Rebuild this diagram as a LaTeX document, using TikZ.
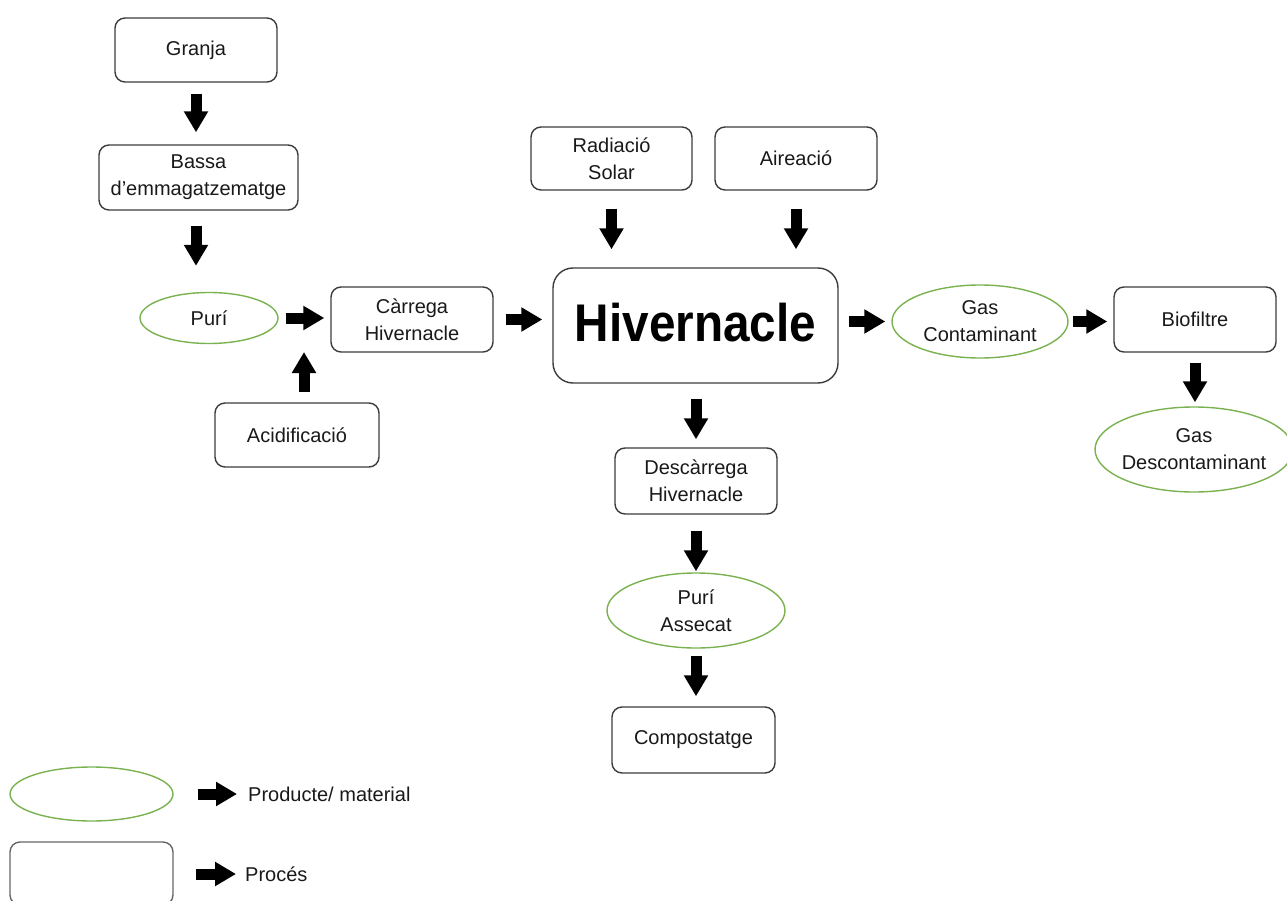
\documentclass[tikz,border=0pt]{standalone}
\usepackage{fontspec}
\setmainfont{Liberation Sans}
\usetikzlibrary{shapes.geometric,arrows.meta}
\definecolor{prodgreen}{RGB}{122,178,80}
\definecolor{boxline}{RGB}{60,60,60}
\definecolor{txt}{RGB}{25,25,25}
\tikzset{
  procbox/.style={draw=boxline, line width=1.4pt, rounded corners=10pt, fill=white,
    align=center, text=txt, inner sep=0pt, font=\fontsize{20}{27}\selectfont},
  prodell/.style={ellipse, draw=prodgreen, line width=1.4pt, fill=white,
    align=center, text=txt, inner sep=-40pt, font=\fontsize{20}{27}\selectfont},
  blk/.style={line width=11pt, -{Triangle[length=21pt,width=23pt]}},
  legtext/.style={anchor=west, inner sep=0pt, text=txt, font=\fontsize{20}{27}\selectfont}
}
\begin{document}
\begin{tikzpicture}[x=1pt,y=-1pt]
\useasboundingbox (0,0) rectangle (1287,901);

% processes
\node[procbox, minimum width=162pt, minimum height=64pt] (granja) at (196,50) {Granja};
\node[procbox, minimum width=199pt, minimum height=65pt] (bassa) at (198.5,177.5) {Bassa\\d’emmagatzematge};
\node[procbox, minimum width=162pt, minimum height=65pt] (carrega) at (412,319.5) {Càrrega\\Hivernacle};
\node[procbox, minimum width=164pt, minimum height=64pt] (acid) at (297,435) {Acidificació};
\node[procbox, minimum width=285pt, minimum height=115pt, rounded corners=20pt] (hiv) at (695.5,325.5)
  {\fontsize{53}{60}\selectfont\bfseries\color{black}\raisebox{6pt}{\scalebox{0.9}[1]{Hivernacle}}};
\node[procbox, minimum width=161pt, minimum height=63pt] (rad) at (611.5,158.5) {Radiació\\Solar};
\node[procbox, minimum width=162pt, minimum height=63pt] (aire) at (796,158.5) {Aireació};
\node[procbox, minimum width=162pt, minimum height=65pt] (bio) at (1195,319.5) {Biofiltre};
\node[procbox, minimum width=162pt, minimum height=66pt] (desc) at (696,481) {Descàrrega\\Hivernacle};
\node[procbox, minimum width=163pt, minimum height=66pt] (comp) at (693.5,740) {Compostatge};

% products
\node[prodell, minimum width=138pt, minimum height=51pt] (puri) at (209,318) {Purí};
\node[prodell, minimum width=176pt, minimum height=73pt] (gasc) at (980,321.5) {Gas\\Contaminant};
\node[prodell, minimum width=198pt, minimum height=85pt] (gasd) at (1194,449.5) {Gas\\Descontaminant};
\node[prodell, minimum width=178pt, minimum height=75pt] (pa) at (696,610.5) {Purí\\Assecat};

% flow arrows
\coordinate (mix) at (304,320);
\draw[blk, shorten <=11pt, shorten >=12pt] (granja.south) -- (granja.south |- bassa.north);
\draw[blk, shorten <=15pt, shorten >=26pt] (bassa.south -| granja.south) -- (granja.south |- puri.north);
\draw[blk, shorten <=7pt, shorten >=6pt] (puri.east) -- (puri.east -| carrega.west);
\draw[blk, shorten <=10pt, shorten >=32pt] (acid.north -| mix) -- (mix);
\draw[blk, shorten <=12pt, shorten >=10pt] (carrega.east) -- (carrega.east -| hiv.west);
\draw[blk, shorten <=18pt, shorten >=18pt] (rad.south) -- (rad.south |- hiv.north);
\draw[blk, shorten <=18pt, shorten >=18pt] (aire.south) -- (aire.south |- hiv.north);
\draw[blk, shorten <=10pt, shorten >=6pt] (gasc.west -| hiv.east) -- (gasc.west);
\draw[blk, shorten <=4pt, shorten >=6pt] (gasc.east) -- (gasc.east -| bio.west);
\draw[blk, shorten <=10pt, shorten >=4pt] (bio.south) -- (bio.south |- gasd.north);
\draw[blk, shorten <=15pt, shorten >=8pt] (desc.north |- hiv.south) -- (desc.north);
\draw[blk, shorten <=16pt, shorten >=1pt] (desc.south) -- (desc.south |- pa.north);
\draw[blk, shorten <=7pt, shorten >=10pt] (pa.south) -- (pa.south |- comp.north);

% legend
\node[prodell, minimum width=163pt, minimum height=54pt] (legE) at (91.5,794) {};
\node[procbox, draw=gray!80!black, minimum width=163pt, minimum height=63pt] (legR) at (91.5,873.5) {};
\node[legtext] (legT1) at (248,794) {Producte/ material};
\node[legtext] (legT2) at (245,874) {Procés};
\draw[blk, shorten <=24pt, shorten >=11pt] (legE.east) -- (legT1.west);
\draw[blk, shorten <=22pt, shorten >=9pt] (legR.east |- legT2.west) -- (legT2.west);
\end{tikzpicture}
\end{document}
